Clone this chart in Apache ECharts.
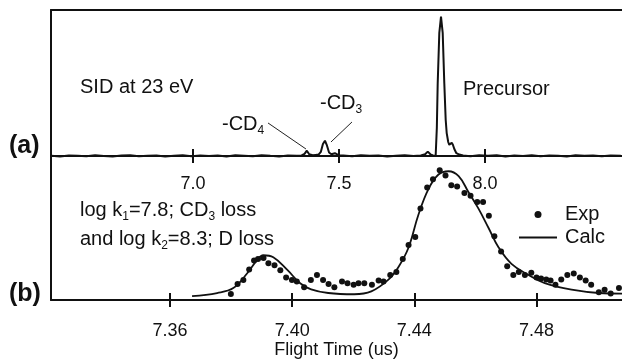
<!DOCTYPE html>
<html lang="en">
<head>
    <meta charset="UTF-8">
    <title>SID flight time spectrum</title>
    <script src="https://cdn.jsdelivr.net/npm/echarts@6.0.0/dist/echarts.min.js"></script>
    <style>
        html, body { margin: 0; padding: 0; background: #fff; }
        #main { width: 622px; height: 360px; }
    </style>
</head>
<body>
    <div id="main"></div>
    <script>
        // (a) SID spectrum at 23 eV, flight time (us) vs relative signal
        var topTime = [
            6.515, 6.545, 6.575, 6.605, 6.635, 6.665, 6.695, 6.725, 6.755, 6.785,
            6.815, 6.845, 6.875, 6.905, 6.935, 6.965, 6.995, 7.025, 7.055, 7.085,
            7.115, 7.145, 7.175, 7.205, 7.235, 7.265, 7.295, 7.325, 7.355,
            7.372, 7.382, 7.39, 7.398, 7.41, 7.42, 7.43, 7.438, 7.445, 7.452,
            7.458, 7.466, 7.474, 7.48, 7.486, 7.492, 7.5,
            7.515, 7.545, 7.575, 7.605, 7.635, 7.665, 7.695, 7.725, 7.755, 7.78,
            7.795, 7.804, 7.813, 7.822, 7.831, 7.835, 7.838, 7.8435, 7.8493, 7.8551,
            7.8606, 7.8654, 7.8688, 7.874, 7.8777, 7.882, 7.886, 7.89, 7.8949, 7.902, 7.912,
            7.925, 7.95, 7.98, 8.01, 8.04, 8.07, 8.1, 8.13, 8.16, 8.19,
            8.22, 8.25, 8.28, 8.31, 8.34, 8.37, 8.4, 8.43, 8.465
        ];
        var topSignal = [
            0.002, -0.003, 0.004, 0.001, -0.002, 0.005, 0.0, -0.003, 0.003, 0.006,
            -0.002, 0.002, 0.004, -0.004, 0.001, 0.005, -0.002, 0.003, 0.0, 0.004,
            -0.003, 0.005, 0.002, -0.002, 0.006, 0.001, -0.003, 0.004, 0.002,
            0.004, 0.015, 0.038, 0.012, 0.006, 0.008, 0.01, 0.03, 0.085, 0.109,
            0.08, 0.025, 0.012, 0.018, 0.02, 0.01, 0.004,
            0.003, -0.002, 0.005, 0.001, 0.004, -0.003, 0.002, 0.006, 0.0, 0.004,
            0.012, 0.031, 0.012, 0.004, 0.002, 0.2, 0.52, 0.88, 0.995, 0.88,
            0.52, 0.257, 0.164, 0.1, 0.08, 0.09, 0.095, 0.08, 0.05, 0.02, 0.01,
            0.004, -0.002, 0.005, 0.001, 0.006, -0.003, 0.003, 0.0, 0.005, -0.002,
            0.004, 0.002, -0.003, 0.006, 0.001, 0.004, -0.002, 0.003, 0.002
        ];
        var topTicks = [7.0, 7.5, 8.0];

        // (b) experimental points and calculated fit
        var expTime = [
            7.3799, 7.3821, 7.3840, 7.3859, 7.3875, 7.3888, 7.3906, 7.3922, 7.3942, 7.3961,
            7.3980, 7.3999, 7.4015, 7.4039, 7.4061, 7.4081, 7.4101, 7.4119, 7.4138, 7.4163,
            7.4181, 7.4201, 7.4217, 7.4236, 7.4261, 7.4283, 7.4299, 7.4321, 7.4341, 7.4362,
            7.4381, 7.4403, 7.4420, 7.4442, 7.4461, 7.4483, 7.4502, 7.4521, 7.4540, 7.4564,
            7.4584, 7.4606, 7.4625, 7.4644, 7.4662, 7.4684, 7.4704, 7.4724, 7.4742, 7.4762,
            7.4783, 7.4800, 7.4815, 7.4832, 7.4846, 7.4862, 7.4881, 7.4901, 7.4922, 7.4942,
            7.4961, 7.4979, 7.5004, 7.5023, 7.5043, 7.5070
        ];
        var expValue = [
            0.045, 0.119, 0.148, 0.224, 0.291, 0.302, 0.309, 0.271, 0.255, 0.219,
            0.166, 0.148, 0.136, 0.095, 0.148, 0.184, 0.148, 0.119, 0.095, 0.136,
            0.124, 0.112, 0.124, 0.124, 0.112, 0.143, 0.136, 0.184, 0.207, 0.302,
            0.405, 0.462, 0.671, 0.826, 0.886, 0.952, 0.914, 0.843, 0.834, 0.786,
            0.766, 0.719, 0.719, 0.619, 0.469, 0.357, 0.248, 0.184, 0.207, 0.184,
            0.200, 0.166, 0.159, 0.152, 0.143, 0.112, 0.152, 0.184, 0.195, 0.166,
            0.143, 0.112, 0.057, 0.076, 0.048, 0.088
        ];
        var calcTime = [
            7.3672, 7.3754, 7.3807, 7.3852, 7.3885, 7.3905, 7.3938, 7.3984, 7.4026, 7.4062,
            7.4118, 7.4203, 7.4259, 7.4315, 7.4348, 7.4381, 7.4413, 7.4446, 7.4479, 7.4512,
            7.4545, 7.4577, 7.4610, 7.4643, 7.4676, 7.4718, 7.4774, 7.4827, 7.4915, 7.5004,
            7.5083
        ];
        var calcValue = [
            0.029, 0.052, 0.088, 0.195, 0.293, 0.329, 0.314, 0.221, 0.124, 0.079,
            0.052, 0.043, 0.064, 0.150, 0.243, 0.386, 0.624, 0.814, 0.921, 0.945,
            0.909, 0.793, 0.671, 0.529, 0.386, 0.266, 0.184, 0.124, 0.076, 0.052,
            0.048
        ];
        var bottomTicks = [7.36, 7.40, 7.44, 7.48];

        function zip(xs, ys) {
            return xs.map(function (x, i) { return [x, ys[i]]; });
        }

        var INK = '#111';
        var FONT = '"Liberation Sans", Arial, sans-serif';

        var myChart = echarts.init(document.getElementById('main'));

        // ticks + labels; lifted 7px into the plot so each tick crosses the axis line
        function tickAxis(gridIndex, min, max, ticks, digits, margin, extra) {
            return Object.assign({
                type: 'value', gridIndex: gridIndex, position: 'bottom', offset: -7,
                min: min, max: max,
                axisLine: { show: false, onZero: false },
                axisTick: { show: true, inside: false, length: 14, customValues: ticks,
                    lineStyle: { color: INK, width: 2 } },
                axisLabel: { show: true, customValues: ticks, margin: margin,
                    color: INK, fontSize: 18, fontFamily: FONT,
                    formatter: function (v) { return v.toFixed(digits); } },
                splitLine: { show: false }
            }, extra || {});
        }

        // plain axis line on a grid edge
        function lineAxis(gridIndex, min, max, position) {
            return {
                type: 'value', gridIndex: gridIndex, position: position,
                min: min, max: max,
                axisLine: { show: true, onZero: false, lineStyle: { color: INK, width: 2 } },
                axisTick: { show: false }, axisLabel: { show: false }, splitLine: { show: false }
            };
        }

        function richText(x, y, text, size, bold) {
            return {
                type: 'text', x: x, y: y, silent: true,
                style: {
                    text: text, fill: INK,
                    fontSize: size || 20, fontFamily: FONT, fontWeight: bold ? 'bold' : 'normal',
                    lineHeight: 26,
                    verticalAlign: 'middle', textVerticalAlign: 'middle',
                    rich: {
                        s: { fontSize: 12, fontFamily: FONT, fill: INK, verticalAlign: 'bottom' }
                    }
                }
            };
        }

        var option = {
            backgroundColor: '#fff',
            animation: false,
            grid: [
                { left: 51, top: 10, width: 571, height: 146 },
                { left: 51, top: 156, width: 571, height: 148 }
            ],
            xAxis: [
                tickAxis(0, 6.514, 8.469, topTicks, 1, 26),
                lineAxis(0, 6.514, 8.469, 'bottom'),
                lineAxis(0, 6.514, 8.469, 'top'),
                tickAxis(1, 7.321, 7.508, bottomTicks, 2, 29, {
                    name: 'Flight Time (us)', nameLocation: 'middle', nameGap: 47,
                    nameTextStyle: { color: INK, fontSize: 18, fontFamily: FONT }
                }),
                lineAxis(1, 7.321, 7.508, 'bottom')
            ],
            yAxis: [
                {
                    type: 'value', gridIndex: 0, min: 0, max: 1.043,
                    axisLine: { show: true, lineStyle: { color: INK, width: 2 } },
                    axisTick: { show: false }, axisLabel: { show: false }, splitLine: { show: false }
                },
                {
                    type: 'value', gridIndex: 1, min: 0, max: 1.057,
                    axisLine: { show: true, lineStyle: { color: INK, width: 2 } },
                    axisTick: { show: false }, axisLabel: { show: false }, splitLine: { show: false }
                }
            ],
            legend: {
                orient: 'vertical', left: 518, top: 204, padding: 0,
                itemWidth: 38, itemHeight: 7, itemGap: 2,
                textStyle: { color: INK, fontSize: 20, fontFamily: FONT, lineHeight: 21,
                    padding: [0, 0, 0, 3] },
                data: [
                    { name: 'Exp', icon: 'circle' },
                    { name: 'Calc', itemStyle: { opacity: 0 } }
                ]
            },
            series: [
                {
                    name: 'SID', type: 'line', xAxisIndex: 0, yAxisIndex: 0,
                    data: zip(topTime, topSignal), symbol: 'none', clip: false,
                    lineStyle: { color: INK, width: 2 }, itemStyle: { color: INK },
                    markLine: {
                        silent: true, symbol: 'none', animation: false,
                        label: { show: false },
                        lineStyle: { color: '#222', width: 1, type: 'solid' },
                        data: [
                            [{ coord: [7.257, 0.236] }, { coord: [7.387, 0.05] }],
                            [{ coord: [7.5445, 0.243] }, { coord: [7.4726, 0.10] }]
                        ]
                    }
                },
                {
                    name: 'Exp', type: 'scatter', xAxisIndex: 3, yAxisIndex: 1,
                    data: zip(expTime, expValue), symbolSize: 6,
                    itemStyle: { color: INK, opacity: 1 }
                },
                {
                    name: 'Calc', type: 'line', xAxisIndex: 3, yAxisIndex: 1,
                    data: zip(calcTime, calcValue), symbol: 'none', smooth: 0.4,
                    lineStyle: { color: INK, width: 1.8 }, itemStyle: { color: INK }
                }
            ],
            graphic: [
                richText(80, 87, 'SID at 23 eV'),
                richText(222, 124, '-CD{s|4}'),
                richText(320, 103, '-CD{s|3}'),
                richText(463, 89, 'Precursor'),
                richText(80, 210, 'log k{s|1}=7.8; CD{s|3} loss'),
                richText(80, 239, 'and log k{s|2}=8.3; D loss'),
                richText(9, 146, '(a)', 25, true),
                richText(9, 294, '(b)', 25, true)
            ]
        };

        myChart.setOption(option);
    </script>
</body>
</html>
